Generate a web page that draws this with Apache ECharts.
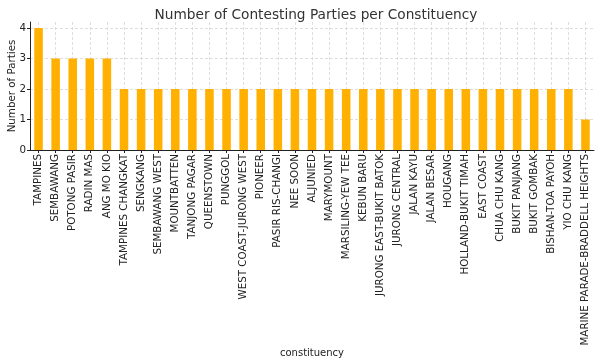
<!DOCTYPE html>
<html><head><meta charset="utf-8">
<script src="https://cdn.jsdelivr.net/npm/echarts@6/dist/echarts.min.js"></script>
<style>html,body{margin:0;padding:0;background:#fff}#c{width:600px;height:364px}</style>
</head><body><div id="c"></div>
<script>
const constituencies = ["TAMPINES","SEMBAWANG","POTONG PASIR","RADIN MAS","ANG MO KIO","TAMPINES CHANGKAT","SENGKANG","SEMBAWANG WEST","MOUNTBATTEN","TANJONG PAGAR","QUEENSTOWN","PUNGGOL","WEST COAST-JURONG WEST","PIONEER","PASIR RIS-CHANGI","NEE SOON","ALJUNIED","MARYMOUNT","MARSILING-YEW TEE","KEBUN BARU","JURONG EAST-BUKIT BATOK","JURONG CENTRAL","JALAN KAYU","JALAN BESAR","HOUGANG","HOLLAND-BUKIT TIMAH","EAST COAST","CHUA CHU KANG","BUKIT PANJANG","BUKIT GOMBAK","BISHAN-TOA PAYOH","YIO CHU KANG","MARINE PARADE-BRADDELL HEIGHTS"];
const partyCounts = [4,3,3,3,3,2,2,2,2,2,2,2,2,2,2,2,2,2,2,2,2,2,2,2,2,2,2,2,2,2,2,2,1];
const yTicks = [0,1,2,3,4];

const font = "DejaVu Sans";
const chart = echarts.init(document.getElementById('c'), null, {renderer:'canvas'});
chart.setOption({
  animation: false,
  title: {
    text: "Number of Contesting Parties per Constituency",
    left: 311, top: 3, textAlign: 'center',
    textStyle: {fontFamily: font, fontSize: 13.7, fontWeight: 'normal', color: '#333'}
  },
  grid: {left: 30, right: 6, top: 22, bottom: 214, containLabel: false, outerBoundsMode: 'none'},
  xAxis: {
    type: 'category', data: constituencies, boundaryGap: true,
    name: 'constituency', nameLocation: 'middle', nameGap: 198, nameMoveOverlap: false,
    nameTextStyle: {fontFamily: font, fontSize: 10, color: '#222'},
    axisLine: {show: true, lineStyle: {color: '#222', width: 1}},
    axisTick: {show: true, alignWithLabel: true, length: 3, lineStyle: {color: '#222'}},
    axisLabel: {rotate: 90, interval: 0, fontFamily: font, fontSize: 10.3, color: '#222', margin: 4},
    splitLine: {show: true, alignWithLabel: true, lineStyle: {color: '#d6d6d6', type: [3,2], width: 0.8}}
  },
  yAxis: {
    type: 'value', min: 0, max: 4.2, interval: 1,
    name: 'Number of Parties', nameLocation: 'middle', nameGap: 13, nameRotate: 90, nameMoveOverlap: false,
    nameTextStyle: {fontFamily: font, fontSize: 10.3, color: '#222'},
    axisLine: {show: true, lineStyle: {color: '#222', width: 1}},
    axisTick: {show: true, length: 3, lineStyle: {color: '#222'}},
    axisLabel: {showMaxLabel: false, fontFamily: font, fontSize: 10.3, color: '#222', margin: 4,
      formatter: v => (yTicks.indexOf(v) >= 0 ? String(v) : '')},
    splitLine: {show: true, showMaxLine: false, lineStyle: {color: '#d6d6d6', type: [3,2], width: 0.8}}
  },
  series: [{
    type: 'bar', data: partyCounts, barWidth: '50%',
    itemStyle: {color: '#FFB000'}
  }]
});
</script></body></html>
